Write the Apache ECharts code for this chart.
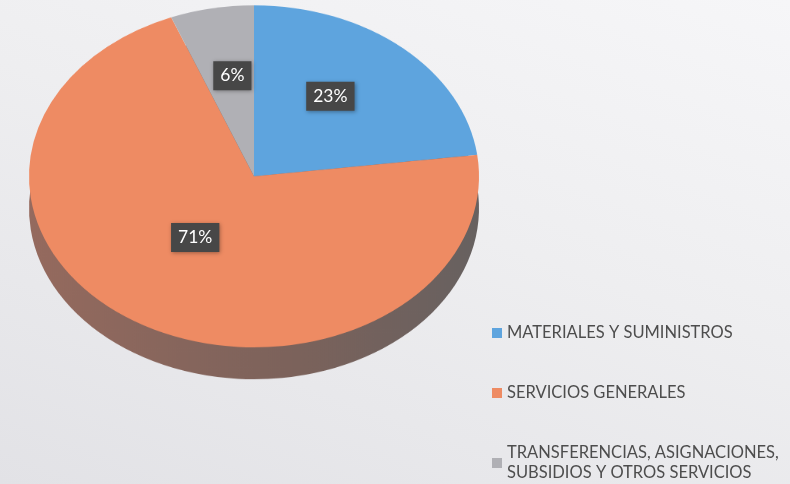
<!DOCTYPE html>
<html>
<head>
<meta charset="utf-8">
<script src="https://cdn.jsdelivr.net/npm/echarts@6/dist/echarts.min.js"></script>
<style>
  html, body { margin: 0; padding: 0; }
  body { width: 790px; height: 484px; overflow: hidden; position: relative;
         background: linear-gradient(200deg, #f6f6f8 0%, #eeeef0 45%, #e2e2e6 100%); }
  #pie { position: absolute; left: 0; top: 0; width: 790px; height: 637px;
         transform: scaleY(0.76); transform-origin: 0 0; }
  #over { position: absolute; left: 0; top: 0; width: 790px; height: 560px; }
</style>
</head>
<body>
<div id="pie"></div>
<div id="over"></div>
<script>
// ---- data ----
var categories = ['MATERIALES Y SUMINISTROS', 'SERVICIOS GENERALES', 'TRANSFERENCIAS, ASIGNACIONES, SUBSIDIOS Y OTROS SERVICIOS'];
var values = [23, 71, 6];
var colors = ['#5ea4de', '#ee8b63', '#b0b0b5'];

var TILT = 0.76;          // vertical squash of the pie (perspective)
var CX = 254, R = 225;
var CY_TOP = 232, CY_SIDE = 274;   // in unsquashed coordinates
var CY_LABEL = 162;

var sideColor = {
  type: 'linear', x: 0, y: 0, x2: 1, y2: 0,
  colorStops: [{ offset: 0, color: '#956a5e' }, { offset: 0.6, color: '#7b625b' }, { offset: 1, color: '#676160' }]
};

var pieChart = echarts.init(document.getElementById('pie'), null, { renderer: 'canvas' });
pieChart.setOption({
  animation: false,
  backgroundColor: 'transparent',
  series: [
    {
      type: 'pie', silent: true, z: 1,
      center: [CX, CY_SIDE], radius: R,
      label: { show: false }, labelLine: { show: false },
      itemStyle: { color: sideColor },
      data: categories.map(function (n, i) { return { name: n, value: values[i] }; })
    },
    {
      type: 'pie', silent: true, z: 2,
      center: [CX, CY_TOP], radius: R,
      label: { show: false }, labelLine: { show: false },
      data: categories.map(function (n, i) { return { name: n, value: values[i], itemStyle: { color: colors[i] } }; })
    }
  ]
});

var over = echarts.init(document.getElementById('over'), null, { renderer: 'canvas' });
over.setOption({
  animation: false,
  backgroundColor: 'transparent',
  legend: {
    orient: 'vertical', left: 492, top: 323, padding: 0, height: 220,
    itemWidth: 10, itemHeight: 10, itemGap: 40, icon: 'rect',
    selectedMode: false,
    formatter: function (name) { return name.replace('ASIGNACIONES, ', 'ASIGNACIONES,\n'); },
    textStyle: { color: '#4d4d4d', fontFamily: 'Lato', fontSize: 16.5, lineHeight: 20 },
    data: categories.map(function (n, i) { return { name: n, itemStyle: { color: colors[i] } }; })
  },
  series: [{
    type: 'pie', silent: true,
    center: [CX, CY_LABEL], radius: R,
    labelLine: { show: false },
    label: {
      show: true, position: 'inside', formatter: '{c}%',
      color: '#ffffff', fontFamily: 'Lato', fontSize: 17.5,
      backgroundColor: '#474747', padding: [6, 7, 5, 7],
      shadowBlur: 4, shadowColor: 'rgba(0,0,0,0.35)', shadowOffsetX: 1, shadowOffsetY: 1
    },
    labelLayout: function (p) {
      var r = p.labelRect;
      var mx = r.x + r.width / 2, my = r.y + r.height / 2;
      return { x: mx, y: CY_LABEL + (my - CY_LABEL) * TILT };
    },
    data: categories.map(function (n, i) { return { name: n, value: values[i], itemStyle: { color: 'rgba(0,0,0,0)' } }; })
  }]
});
</script>
</body>
</html>
